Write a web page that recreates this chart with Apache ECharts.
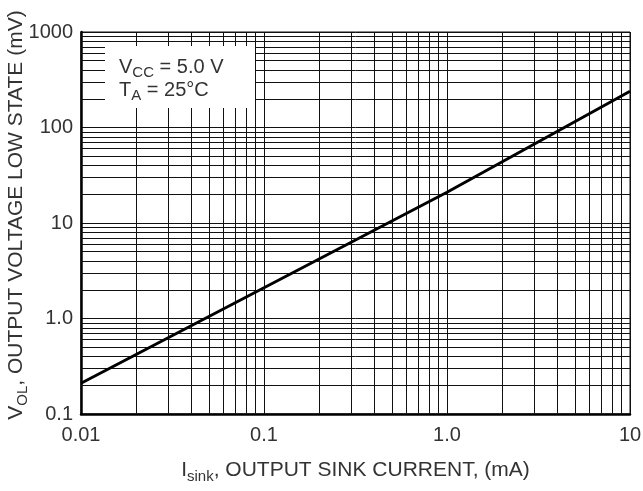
<!DOCTYPE html>
<html>
<head>
<meta charset="utf-8">
<script src="https://cdn.jsdelivr.net/npm/echarts@6/dist/echarts.min.js"></script>
<style>
html,body{margin:0;padding:0;background:#fff;}
#chart{width:643px;height:491px;}
</style>
</head>
<body>
<div id="chart"></div>
<script>
// ---- data ----
var sinkCurrent = [0.01, 0.1, 1, 10];          // mA
var outputVoltage = [0.21, 2.1, 21, 240];       // mV
var xDecades = [0.01, 0.1, 1];
var yDecades = [0.1, 1, 10, 100];
var minorMultipliers = [2, 3, 4, 5, 6, 7, 8, 9];
var xTickLabels = ['0.01', '0.1', '1.0', '10'];
var yTickLabels = ['0.1', '1.0', '10', '100', '1000'];
var vccText = '5.0 V';
var taText = '25°C';

var FONT = '"Liberation Sans", Arial, sans-serif';
var TXT = '#333';

var gridMarks = [];
xDecades.forEach(function (d) {
  minorMultipliers.forEach(function (m) { gridMarks.push({ xAxis: d * m }); });
});
yDecades.forEach(function (d) {
  minorMultipliers.forEach(function (m) { gridMarks.push({ yAxis: d * m }); });
});

var lineData = sinkCurrent.map(function (x, i) { return [x, outputVoltage[i]]; });

function labelFor(list, minExp) {
  return function (v) {
    var i = Math.round(Math.log10(v)) - minExp;
    return list[i] !== undefined ? list[i] : '';
  };
}

var titleRich = {
  a: { fontSize: 21, color: TXT, fontFamily: FONT, lineHeight: 24, verticalAlign: 'bottom' },
  s: { fontSize: 15, color: TXT, fontFamily: FONT, lineHeight: 15, verticalAlign: 'bottom', padding: [0, 0, -3, 0] }
};

var chart = echarts.init(document.getElementById('chart'), null, { renderer: 'canvas' });
chart.setOption({
  animation: false,
  backgroundColor: '#fff',
  textStyle: { fontFamily: FONT },
  grid: { left: 81, right: 13, top: 32, bottom: 77, show: true, borderColor: '#111', borderWidth: 1,
          containLabel: false, outerBoundsMode: 'none' },
  xAxis: {
    type: 'log', logBase: 10, min: 0.01, max: 10,
    axisLine: { show: true, onZero: false, lineStyle: { color: '#000', width: 2.5 } },
    axisTick: { show: false },
    splitLine: { show: true, lineStyle: { color: '#111', width: 1 } },
    axisLabel: { color: TXT, fontSize: 20, fontFamily: FONT, margin: 11, formatter: labelFor(xTickLabels, -2) },
    name: '{a|I}{s|sink}{a|, OUTPUT SINK CURRENT, (mA)}',
    nameLocation: 'middle', nameGap: 43, nameMoveOverlap: false,
    nameTextStyle: { rich: titleRich }
  },
  yAxis: {
    type: 'log', logBase: 10, min: 0.1, max: 1000,
    axisLine: { show: true, onZero: false, lineStyle: { color: '#000', width: 2.5 } },
    axisTick: { show: false },
    splitLine: { show: true, lineStyle: { color: '#111', width: 1 } },
    axisLabel: { color: TXT, fontSize: 20, fontFamily: FONT, margin: 8, formatter: labelFor(yTickLabels, -1) },
    name: '{a|V}{s|OL}{a|, OUTPUT VOLTAGE LOW STATE (mV)}',
    nameLocation: 'middle', nameGap: 54, nameRotate: 90, nameMoveOverlap: false,
    nameTextStyle: { rich: titleRich, padding: [0, 0, 0, 16] }
  },
  graphic: [
    {
      type: 'group', left: 105, top: 46, z: 100,
      children: [
        { type: 'rect', shape: { x: 0, y: 0, width: 150, height: 62 }, style: { fill: '#fff' }, z: 100 },
        {
          type: 'text', x: 14, y: 8, z: 101,
          style: {
            text: '{a|V}{s|CC}{a| = ' + vccText + '}\n{a|T}{s|A}{a| = ' + taText + '}',
            rich: {
              a: { fontSize: 20, fill: TXT, fontFamily: FONT, lineHeight: 23, verticalAlign: 'bottom' },
              s: { fontSize: 15, fill: TXT, fontFamily: FONT, lineHeight: 15, verticalAlign: 'bottom', padding: [0, 0, -3, 0] }
            }
          }
        }
      ]
    }
  ],
  series: [
    {
      type: 'line', data: [], silent: true, z: 1,
      markLine: {
        silent: true, symbol: 'none', animation: false,
        label: { show: false },
        lineStyle: { color: '#111', width: 1, type: 'solid' },
        emphasis: { disabled: true },
        data: gridMarks
      }
    },
    {
      type: 'line', data: lineData, showSymbol: false, z: 200,
      lineStyle: { color: '#000', width: 3 },
      itemStyle: { color: '#000' }
    }
  ]
});
</script>
</body>
</html>
